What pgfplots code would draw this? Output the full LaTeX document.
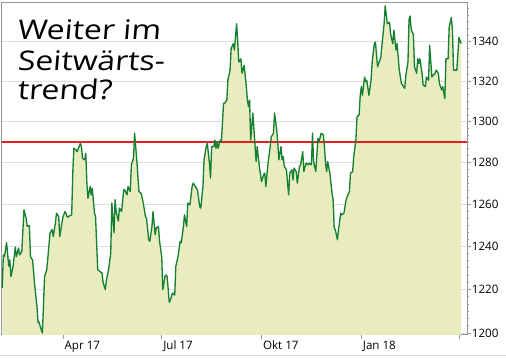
\documentclass[border=0pt]{standalone}
\usepackage{pgfplots}
\pgfplotsset{compat=1.18}
\usepackage{pgfplotstable}
\usepackage{fontspec}
\setmainfont{Open Sans}
\newfontfamily\hand[FakeSlant=0.08,FakeStretch=1.18]{Open Sans}
\definecolor{fillc}{RGB}{232,236,190}
\definecolor{linec}{RGB}{22,128,50}
\definecolor{redl}{RGB}{228,32,36}
\definecolor{gridc}{RGB}{222,222,222}
\definecolor{axisc}{RGB}{150,150,150}
\pgfplotstableread{
d v
34 1220.7
35 1236.0
36 1235.2
38 1241.7
40 1230.7
41 1233.6
42 1225.9
44 1230.7
46 1239.7
47 1235.2
49 1239.2
50 1236.0
52 1237.6
54 1257.3
56 1253.3
57 1249.4
59 1249.8
60 1235.2
62 1233.6
64 1221.4
66 1212.2
67 1204.6
68 1205.0
69 1203.0
71 1200.0
73 1225.9
75 1229.1
76 1234.4
78 1246.3
80 1247.9
81 1244.6
83 1251.1
84 1255.7
86 1254.1
87 1244.6
89 1251.1
90 1254.1
92 1256.5
94 1253.8
96 1254.4
98 1254.9
99 1274.9
100 1286.9
102 1286.1
103 1285.3
106 1289.3
107 1287.7
108 1282.1
110 1281.3
111 1284.5
112 1270.1
113 1262.8
115 1268.4
116 1264.4
117 1267.6
119 1255.7
120 1254.1
122 1229.1
124 1228.3
126 1227.5
127 1223.1
129 1219.9
130 1224.3
132 1229.1
134 1236.8
135 1260.5
137 1246.3
138 1262.1
139 1256.5
141 1251.9
142 1258.1
144 1256.5
146 1266.8
147 1266.8
149 1264.4
150 1268.4
152 1266.0
153 1278.9
155 1282.1
156 1294.3
157 1287.7
158 1281.3
160 1266.0
162 1265.2
164 1260.5
166 1254.1
167 1253.3
169 1243.1
170 1242.4
172 1249.4
173 1256.5
175 1245.5
176 1248.7
178 1249.4
179 1242.4
181 1235.2
182 1219.9
184 1225.9
185 1226.7
186 1225.9
188 1213.9
190 1216.6
191 1218.3
193 1217.4
194 1230.7
196 1235.2
198 1242.4
199 1241.7
201 1249.4
202 1254.9
204 1249.4
205 1260.5
207 1259.7
209 1268.4
210 1270.1
212 1268.4
214 1266.8
216 1258.9
217 1258.1
219 1268.4
220 1281.3
222 1287.7
223 1289.3
225 1279.7
226 1272.5
227 1287.7
229 1287.7
230 1290.9
231 1286.9
232 1290.1
233 1286.9
235 1290.9
236 1290.1
238 1309.0
239 1309.0
241 1310.6
242 1320.5
244 1325.6
245 1336.5
247 1338.9
248 1335.7
250 1349.0
251 1340.8
252 1329.6
254 1331.3
255 1324.0
257 1328.0
259 1317.3
260 1310.6
261 1307.4
262 1310.6
263 1290.9
265 1304.2
268 1280.5
269 1287.7
271 1278.1
273 1270.8
275 1274.1
276 1274.9
277 1268.4
279 1279.7
281 1287.7
282 1292.5
284 1294.3
285 1304.2
287 1295.9
288 1289.3
289 1281.3
291 1287.7
292 1281.3
293 1282.9
294 1278.1
296 1276.5
297 1270.1
298 1264.4
299 1274.9
301 1276.5
302 1271.6
303 1277.3
305 1275.6
306 1270.1
308 1278.1
309 1278.9
311 1285.3
312 1275.6
314 1279.7
316 1278.9
317 1279.7
319 1278.9
320 1294.3
321 1280.5
323 1275.6
325 1291.7
326 1290.1
328 1294.3
330 1293.5
331 1287.7
332 1279.7
333 1275.6
334 1280.5
336 1274.9
338 1265.2
339 1262.1
340 1248.7
341 1247.9
343 1243.1
344 1247.9
346 1255.7
347 1254.9
349 1255.7
351 1262.1
352 1263.6
354 1266.0
355 1274.9
357 1275.6
358 1282.9
360 1290.9
361 1302.3
363 1303.4
364 1313.0
365 1317.3
366 1313.0
368 1322.1
369 1319.7
370 1320.5
372 1313.0
374 1320.5
375 1329.6
377 1338.9
378 1339.7
380 1327.2
381 1328.9
383 1332.0
384 1338.1
386 1349.0
387 1358.2
389 1349.0
391 1349.8
392 1343.7
394 1338.9
395 1345.8
397 1335.7
398 1338.9
400 1325.6
402 1318.9
403 1318.1
405 1316.5
406 1322.9
408 1329.6
409 1351.4
410 1353.0
411 1345.8
413 1343.7
414 1327.2
416 1324.0
417 1331.3
418 1328.9
419 1331.3
421 1324.0
422 1318.1
424 1317.3
425 1322.1
427 1320.5
428 1338.1
430 1322.1
431 1322.9
433 1324.0
434 1325.6
436 1324.0
437 1318.9
439 1315.7
440 1317.3
442 1311.4
443 1331.3
445 1331.3
446 1347.4
448 1352.2
449 1345.8
450 1325.6
452 1325.6
453 1325.6
455 1342.1
457 1338.9
}\dax
\begin{document}
\begin{tikzpicture}
\path[use as bounding box] (0pt,0pt) rectangle (379.5pt,267.75pt);
\begin{axis}[
  scale only axis,
  width=349.1pt, height=249pt,
  at={(1.125pt,16.5pt)}, anchor=south west,
  ymode=log,
  xmin=33.3, xmax=462.4, ymin=1199.2, ymax=1359.8,
  axis line style={draw=axisc, line width=0.6pt},
  xtick={90,181,273,365,455},
  xticklabels={Apr 17,Jul 17,Okt 17,Jan 18,},
  xtick pos=left,
  ytick={1200,1220,1240,1260,1280,1300,1320,1340},
  yticklabels={1200,1220,1240,1260,1280,1300,1320,1340},
  minor ytick={1203.3,1206.7,1210,1213.3,1216.7,1223.3,1226.7,1230,1233.3,1236.7,1243.3,1246.7,1250,1253.3,1256.7,1263.3,1266.7,1270,1273.3,1276.7,1283.3,1286.7,1290,1293.3,1296.7,1303.3,1306.7,1310,1313.3,1316.7,1323.3,1326.7,1330,1333.3,1336.7,1343.3,1346.7,1350,1353.3,1356.7},
  ytick pos=right,
  yticklabel pos=right,
  tick align=outside,
  major tick length=3pt,
  minor tick length=1.7pt,
  tick style={draw=axisc, line width=0.5pt},
  ymajorgrids,
  grid style={draw=gridc, line width=0.6pt},
  minor grid style={draw=none},
  ticklabel style={font=\fontsize{8.7}{10}\selectfont, text=black},
  xticklabel style={anchor=north west, inner sep=0pt, xshift=1pt, yshift=-1.5pt},
  yticklabel style={anchor=west, inner sep=0pt, xshift=0.5pt},
  clip=true,
]
\addplot[draw=none, fill=fillc] table[x=d, y=v] {\dax} \closedcycle;
\addplot[draw=redl, line width=0.9pt] coordinates {(33.3,1290) (462.4,1290)};
\addplot[draw=linec, line width=1.0pt, line join=round] table[x=d, y=v] {\dax};
\end{axis}
\draw[draw=gridc, line width=0.6pt] (0pt,1.5pt) -- (379.5pt,1.5pt);
\node[anchor=base west, inner sep=0pt, font=\hand\fontsize{20.3}{24}\selectfont] at (12.75pt,238.3pt) {Weiter im};
\node[anchor=base west, inner sep=0pt, font=\hand\fontsize{20.3}{24}\selectfont] at (12.75pt,214.5pt) {Seitwärts-};
\node[anchor=base west, inner sep=0pt, font=\hand\fontsize{20.3}{24}\selectfont] at (12.75pt,193.1pt) {trend?};
\end{tikzpicture}
\end{document}
